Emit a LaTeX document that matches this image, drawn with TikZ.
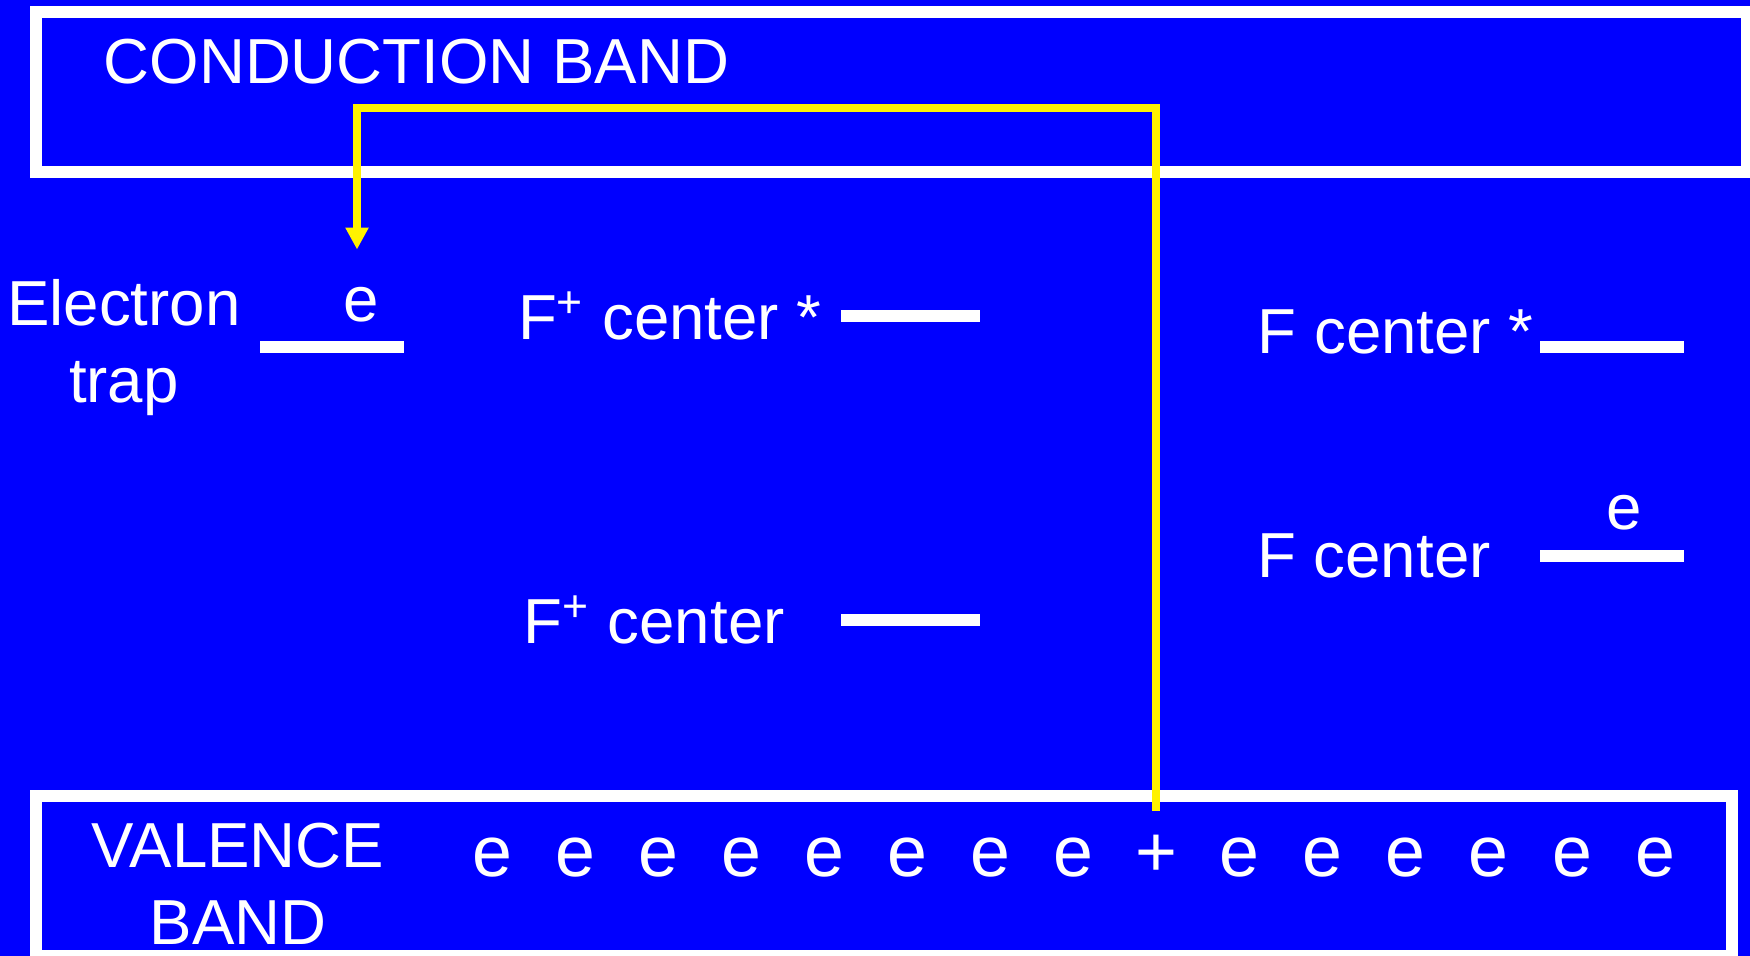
\documentclass[tikz,border=0pt]{standalone}
\usepackage{fontspec}
\setmainfont{Liberation Sans}
\usepackage{xcolor}
\usetikzlibrary{arrows.meta, positioning}

\definecolor{bandblue}{RGB}{0,0,255}

\begin{document}
\begin{tikzpicture}[
    font=\fontsize{18.1}{21.9}\selectfont,
    band/.style={draw=white, line width=0.12cm},
    lvl/.style={rectangle, fill=white, inner sep=0pt,
                minimum width=#1, minimum height=0.12cm},
    lvl/.default=1.44cm,
    lbl/.style={text=white, inner sep=0pt},
    carrier/.style={lbl, anchor=base, font=\fontsize{20.4}{24}\selectfont},
    hop/.style={-{Triangle[length=0.22cm, width=0.22cm]},
                yellow, line width=0.08cm},
    node distance=0.18cm
  ]

  % page with blue background
  \useasboundingbox (0,0) rectangle (17.5,9.56);
  \fill[bandblue] (0,0) rectangle (17.5,9.56);

  % conduction and valence bands
  \draw[band] (0.36,7.84) rectangle (17.47,9.44);
  \draw[band] (0.36,0) rectangle (17.32,1.60);
  \node[lbl, anchor=base west] (cb) at (1.03,8.72) {CONDUCTION BAND};
  \node[lbl, align=center, anchor=north] (vb) at (2.38,1.34) {VALENCE\\BAND};

  % defect levels in the gap
  \node[lvl]        (trap) at (3.32,6.085) {};
  \node[lvl=1.39cm] (fpex) at (9.105,6.40) {};
  \node[lvl=1.39cm] (fp)   at (9.105,3.36) {};
  \node[lvl]        (fex)  at (16.12,6.085) {};
  \node[lvl]        (f)    at (16.12,4.00) {};

  \node[lbl, align=center, left=of trap] (trapname) {Electron\\trap};
  \node[lbl, left=0.18cm of fpex] (fpexname) {F\textsuperscript{+} center *};
  \node[lbl, left=0.55cm of fp]   (fpname)   {F\textsuperscript{+} center};
  \node[lbl, left=0.05cm of fex, yshift=0.155cm] (fexname) {F center *};
  \node[lbl, left=0.48cm of f]    (fname)    {F center};

  % electrons sitting on levels
  \node[lbl, above=of trap, xshift=0.29cm] (trapped) {e};
  \node[lbl, above=of f, xshift=0.12cm]    (fe)      {e};

  % valence electrons, one of them missing
  \foreach \i in {0,1,2,3,4,5,6,7,9,10,11,12,13,14}
    \node[carrier] (ve\i) at (4.92+0.8307*\i,0.79) {e};
  \node[carrier] (hole) at (11.56,0.79) {+};

  % electron lifted from the valence band into the trap
  \coordinate (holetop) at ([yshift=0.24cm]hole.north);
  \coordinate (bend) at (3.57,8.48);
  \draw[hop, shorten >=0.37cm] (holetop) |- (bend) -- (bend |- trapped.north);

\end{tikzpicture}
\end{document}
